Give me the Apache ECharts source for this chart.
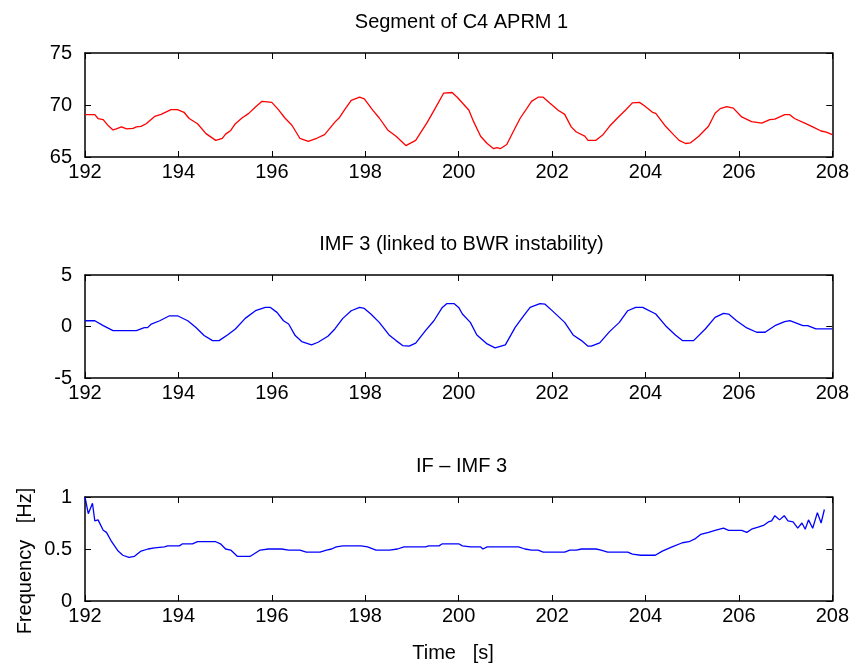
<!DOCTYPE html>
<html>
<head>
<meta charset="utf-8">
<script src="https://cdn.jsdelivr.net/npm/echarts/dist/echarts.min.js"></script>
<style>html,body{margin:0;padding:0;background:#fff}#c{width:852px;height:665px}</style>
</head>
<body>
<div id="c"></div>
<script>
// ---- data ----
const titles = ["Segment of C4 APRM 1", "IMF 3 (linked to BWR instability)", "IF \u2013 IMF 3"];
const xLabelText = "Time   [s]";
const yLabelText = "Frequency   [Hz]";
const xTicks = [192, 194, 196, 198, 200, 202, 204, 206, 208];
const yTicks1 = [65, 70, 75];
const yTicks2 = [-5, 0, 5];
const yTicks3 = [0, 0.5, 1];

const aprmTime = [192.00,192.21,192.28,192.39,192.50,192.60,192.67,192.78,192.89,193.03,193.10,193.20,193.31,193.49,193.63,193.84,193.98,194.12,194.23,194.41,194.59,194.80,194.94,195.01,195.12,195.22,195.36,195.50,195.65,195.79,195.90,196.00,196.14,196.28,196.43,196.60,196.78,196.96,197.13,197.35,197.45,197.56,197.70,197.88,197.98,198.16,198.30,198.48,198.66,198.87,199.08,199.33,199.50,199.68,199.86,199.97,200.22,200.32,200.47,200.61,200.75,200.82,200.89,201.03,201.17,201.32,201.42,201.56,201.70,201.81,201.95,202.13,202.27,202.41,202.52,202.70,202.77,202.94,203.09,203.23,203.40,203.58,203.72,203.87,203.97,204.15,204.22,204.43,204.61,204.72,204.86,204.96,205.14,205.35,205.49,205.60,205.74,205.88,206.06,206.27,206.49,206.66,206.77,206.98,207.09,207.19,207.41,207.58,207.76,207.87,208.00];
const aprmValue = [69.07,69.07,68.7,68.6,68.0,67.6,67.7,67.9,67.7,67.75,67.9,67.95,68.2,68.9,69.1,69.55,69.55,69.3,68.7,68.2,67.25,66.6,66.8,67.2,67.55,68.2,68.75,69.17,69.8,70.35,70.3,70.25,69.55,68.75,68.05,66.8,66.5,66.8,67.15,68.35,68.8,69.55,70.45,70.75,70.6,69.5,68.75,67.6,67.0,66.1,66.6,68.35,69.7,71.15,71.2,70.75,69.5,68.4,67.0,66.3,65.8,65.9,65.8,66.2,67.45,68.75,69.4,70.35,70.75,70.75,70.2,69.5,69.1,67.9,67.4,67.0,66.6,66.6,67.15,67.95,68.75,69.55,70.2,70.25,69.95,69.3,69.2,67.95,67.1,66.6,66.3,66.35,67.0,67.95,69.2,69.65,69.85,69.7,68.85,68.4,68.25,68.6,68.65,69.07,69.07,68.7,68.25,67.9,67.5,67.4,67.15];

const imfTime = [192.00,192.21,192.39,192.60,192.81,193.10,193.27,193.34,193.42,193.60,193.81,193.98,194.20,194.37,194.55,194.73,194.87,195.05,195.22,195.43,195.65,195.86,195.97,196.11,196.25,196.36,196.50,196.64,196.85,196.99,197.20,197.35,197.52,197.70,197.88,197.98,198.12,198.30,198.51,198.66,198.80,198.94,199.08,199.29,199.47,199.65,199.75,199.90,200.00,200.08,200.25,200.39,200.61,200.78,201.00,201.21,201.39,201.53,201.74,201.85,201.99,202.27,202.45,202.63,202.77,202.84,203.02,203.23,203.44,203.62,203.79,203.94,204.22,204.43,204.64,204.79,205.03,205.28,205.49,205.67,205.78,205.95,206.17,206.38,206.56,206.77,206.98,207.09,207.19,207.37,207.47,207.65,208.00];
const imfValue = [0.56,0.56,0.08,-0.4,-0.4,-0.4,-0.11,-0.11,0.24,0.56,1.04,1.04,0.56,-0.08,-0.88,-1.37,-1.37,-0.82,-0.24,0.79,1.53,1.85,1.85,1.37,0.56,0.24,-0.88,-1.46,-1.78,-1.53,-0.95,-0.24,0.79,1.53,1.85,1.75,1.21,0.4,-0.82,-1.37,-1.85,-1.91,-1.62,-0.4,0.56,1.85,2.23,2.23,1.85,1.21,0.4,-0.82,-1.69,-2.07,-1.78,-0.08,1.04,1.85,2.23,2.17,1.59,0.4,-0.82,-1.37,-1.91,-1.91,-1.59,-0.5,0.4,1.53,1.85,1.85,1.21,0.08,-0.82,-1.37,-1.37,-0.24,0.88,1.27,1.21,0.56,-0.14,-0.56,-0.56,0.08,0.47,0.56,0.4,0.08,0.08,-0.24,-0.24];

const ifTime = [192.00,192.07,192.16,192.21,192.28,192.39,192.46,192.57,192.71,192.81,192.94,193.06,193.20,193.35,193.49,193.70,193.77,194.02,194.09,194.30,194.41,194.80,194.90,195.01,195.12,195.26,195.54,195.75,195.93,196.21,196.36,196.60,196.74,197.03,197.17,197.28,197.38,197.52,197.91,198.05,198.23,198.52,198.69,198.83,199.29,199.36,199.58,199.65,200.00,200.08,200.25,200.47,200.52,200.61,201.28,201.42,201.56,201.70,201.81,202.27,202.38,202.52,202.63,202.94,203.05,203.19,203.62,203.72,203.90,204.21,204.36,204.57,204.79,204.93,205.07,205.18,205.35,205.49,205.67,205.78,206.06,206.17,206.27,206.41,206.54,206.63,206.70,206.77,206.87,206.97,207.05,207.16,207.26,207.35,207.42,207.49,207.58,207.68,207.76,207.83];
const ifValue = [1.0,0.84,0.94,0.77,0.78,0.68,0.66,0.57,0.48,0.44,0.42,0.43,0.48,0.5,0.51,0.52,0.53,0.53,0.55,0.55,0.57,0.57,0.55,0.5,0.49,0.43,0.43,0.49,0.5,0.5,0.49,0.49,0.47,0.47,0.49,0.5,0.52,0.53,0.53,0.52,0.49,0.49,0.5,0.52,0.52,0.53,0.53,0.55,0.55,0.53,0.52,0.52,0.5,0.52,0.52,0.5,0.49,0.49,0.47,0.47,0.49,0.49,0.5,0.5,0.49,0.47,0.47,0.45,0.44,0.44,0.48,0.52,0.56,0.57,0.6,0.64,0.66,0.68,0.70,0.68,0.68,0.66,0.69,0.71,0.73,0.76,0.77,0.82,0.78,0.82,0.77,0.76,0.70,0.75,0.69,0.78,0.70,0.85,0.75,0.88];

// ---- chart ----
const FONT = "Liberation Sans";
const FS = 20;
const zip = (a, b) => a.map((v, i) => [v, b[i]]);
const grids = [
  {left: 85, right: 14, top: 53, height: 104},
  {left: 85, right: 14, top: 275, height: 103},
  {left: 85, right: 14, top: 497, height: 104}
];
const yTickSets = [yTicks1, yTicks2, yTicks3];
const xAxes = [], yAxes = [];
const lineStyleAx = {color: '#000', width: 1.5};
grids.forEach((g, i) => {
  const xi = xTicks[1] - xTicks[0];
  xAxes.push({
    gridIndex: i, type: 'value', position: 'bottom',
    min: xTicks[0], max: xTicks[xTicks.length - 1], interval: xi,
    axisLine: {show: true, onZero: false, lineStyle: lineStyleAx},
    axisTick: {show: true, inside: true, length: 6, lineStyle: {color: '#000', width: 1}},
    axisLabel: {show: true, color: '#000', fontFamily: FONT, fontSize: FS, margin: 5},
    splitLine: {show: false}
  });
  xAxes.push({
    gridIndex: i, type: 'value', position: 'top',
    min: xTicks[0], max: xTicks[xTicks.length - 1], interval: xi,
    axisLine: {show: true, onZero: false, lineStyle: lineStyleAx},
    axisTick: {show: true, inside: true, length: 6, lineStyle: {color: '#000', width: 1}},
    axisLabel: {show: false}, splitLine: {show: false}
  });
  const yt = yTickSets[i];
  const yi = yt[1] - yt[0];
  yAxes.push({
    gridIndex: i, type: 'value', position: 'left',
    min: yt[0], max: yt[yt.length - 1], interval: yi,
    axisLine: {show: true, onZero: false, lineStyle: lineStyleAx},
    axisTick: {show: true, inside: true, length: 6, lineStyle: {color: '#000', width: 1}},
    axisLabel: {show: true, color: '#000', fontFamily: FONT, fontSize: FS, margin: 13},
    splitLine: {show: false}
  });
  yAxes.push({
    gridIndex: i, type: 'value', position: 'right',
    min: yt[0], max: yt[yt.length - 1], interval: yi,
    axisLine: {show: true, onZero: false, lineStyle: lineStyleAx},
    axisTick: {show: true, inside: true, length: 6, lineStyle: {color: '#000', width: 1}},
    axisLabel: {show: false}, splitLine: {show: false}
  });
});

const mkSeries = (idx, t, v, color) => ({
  type: 'line', xAxisIndex: idx * 2, yAxisIndex: idx * 2,
  data: zip(t, v), showSymbol: false, symbol: 'none', smooth: false,
  lineStyle: {color: color, width: 1.3}, animation: false, silent: true
});

const centerX = 85 + (852 - 14 - 85) / 2;
const textStyle = (txt, x, y, extra) => Object.assign({
  type: 'text', x: x, y: y, silent: true,
  style: {text: txt, fill: '#000', font: FS + 'px "' + FONT + '"', textAlign: 'center', textVerticalAlign: 'middle'}
}, extra || {});

const chart = echarts.init(document.getElementById('c'), null, {renderer: 'canvas'});
chart.setOption({
  animation: false,
  backgroundColor: '#fff',
  grid: grids,
  xAxis: xAxes,
  yAxis: yAxes,
  series: [
    mkSeries(0, aprmTime, aprmValue, '#ff0000'),
    mkSeries(1, imfTime, imfValue, '#0000ff'),
    mkSeries(2, ifTime, ifValue, '#0000ff')
  ],
  graphic: [
    textStyle(titles[0], centerX, 22),
    textStyle(titles[1], centerX, 244),
    textStyle(titles[2], centerX, 466),
    textStyle(xLabelText, 453, 653),
    textStyle(yLabelText, 25, 561, {rotation: Math.PI / 2})
  ]
});
</script>
</body>
</html>
